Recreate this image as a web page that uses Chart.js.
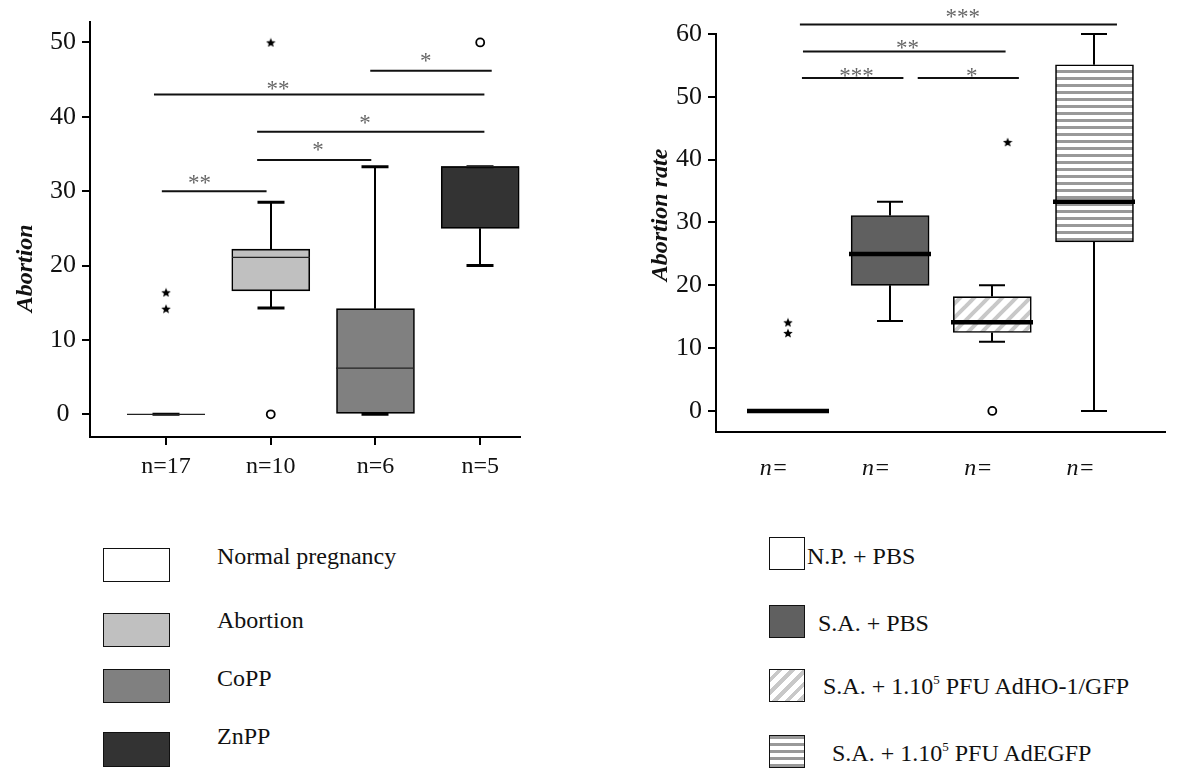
<!DOCTYPE html>
<html>
<head>
<meta charset="utf-8">
<script src="https://cdn.jsdelivr.net/npm/chart.js@4.4.0/dist/chart.umd.min.js"></script>
<style>
body { margin: 0; background: #fff; width: 1187px; height: 769px; position: relative; overflow: hidden; font-family: "Liberation Serif", serif; color: #111; }
#leftWrap { position: absolute; left: 0; top: 0; width: 560px; height: 500px; }
#rightWrap { position: absolute; left: 600px; top: 0; width: 587px; height: 500px; }
.sw { position: absolute; border: 1.5px solid #111; box-sizing: border-box; }
.lt { position: absolute; font-size: 24px; line-height: 24px; white-space: nowrap; }
.lt sup { font-size: 13px; vertical-align: 10px; line-height: 0; }
</style>
</head>
<body>
<div id="leftWrap"><canvas id="leftChart" width="560" height="500"></canvas></div>
<div id="rightWrap"><canvas id="rightChart" width="587" height="500"></canvas></div>

<!-- left legend -->
<div class="sw" style="left:103px;top:548px;width:67px;height:34px;background:#fff"></div>
<div class="lt" style="left:217px;top:544px">Normal pregnancy</div>
<div class="sw" style="left:103px;top:613px;width:67px;height:34px;background:#c0c0c0"></div>
<div class="lt" style="left:217px;top:608px">Abortion</div>
<div class="sw" style="left:103px;top:669px;width:67px;height:34px;background:#808080"></div>
<div class="lt" style="left:217px;top:666px">CoPP</div>
<div class="sw" style="left:103px;top:732px;width:67px;height:35px;background:#333"></div>
<div class="lt" style="left:217px;top:724px">ZnPP</div>

<!-- right legend -->
<div class="sw" style="left:769px;top:537px;width:36px;height:33px;background:#fff"></div>
<div class="lt" style="left:807px;top:544px">N.P. + PBS</div>
<div class="sw" style="left:769px;top:605px;width:36px;height:33px;background:#606060"></div>
<div class="lt" style="left:818px;top:611px">S.A. + PBS</div>
<div class="sw" style="left:769px;top:669px;width:36px;height:33px;background:repeating-linear-gradient(135deg,#fff 0 5px,#c8c8c8 5px 9px)"></div>
<div class="lt" style="left:823px;top:674px">S.A. + 1.10<sup>5</sup> PFU AdHO-1/GFP</div>
<div class="sw" style="left:769px;top:735px;width:36px;height:33px;background:repeating-linear-gradient(180deg,#999 0 3px,#fff 3px 7px)"></div>
<div class="lt" style="left:832px;top:741px">S.A. + 1.10<sup>5</sup> PFU AdEGFP</div>

<script>
// ---- left panel ----
const leftLabels = ['n=17', 'n=10', 'n=6', 'n=5'];
const leftYTicks = [0, 10, 20, 30, 40, 50];
const leftQ1 = [0, 16.6, 0, 25.0];
const leftQ3 = [0, 22.2, 14.2, 33.3];
const leftMedian = [0, 21.1, 6.2, 33.3];
const leftLow = [0, 14.3, 0, 20.0];
const leftHigh = [0, 28.5, 33.3, 33.3];
const leftStars = [{ x: 1, y: 16.4 }, { x: 1, y: 14.2 }, { x: 2, y: 50 }];
const leftCircles = [{ x: 2, y: 0 }, { x: 4, y: 50 }];
const leftSigFrom = [0.96, 1.87, 1.87, 0.885, 2.95];
const leftSigTo = [1.96, 2.96, 4.04, 4.04, 4.11];
const leftSigLevel = [30, 34.2, 38.0, 43.0, 46.2];
const leftSigText = ['**', '*', '*', '**', '*'];
const leftSigTextAt = [1.32, 2.45, 2.90, 2.07, 3.48];

// ---- right panel ----
const rightLabels = ['n=', 'n=', 'n=', 'n='];
const rightYTicks = [0, 10, 20, 30, 40, 50, 60];
const rightQ1 = [0, 20.0, 12.5, 26.9];
const rightQ3 = [0, 31.1, 18.2, 55.1];
const rightMedian = [0, 25.0, 14.1, 33.3];
const rightLow = [0, 14.3, 11.0, 0];
const rightHigh = [0, 33.3, 20.0, 60.0];
const rightStars = [{ x: 1, y: 14.1 }, { x: 1, y: 12.4 }, { x: 3.15, y: 42.8 }];
const rightCircles = [{ x: 3, y: 0 }];
const rightSigFrom = [1.117, 1.147, 1.137, 2.27];
const rightSigTo = [4.22, 3.13, 2.13, 3.26];
const rightSigLevel = [61.5, 57.2, 53.0, 53.0];
const rightSigText = ['***', '**', '***', '*'];
const rightSigTextAt = [2.71, 2.17, 1.67, 2.80];

const SERIF = '"Liberation Serif", "Times New Roman", serif';
Chart.defaults.font.family = SERIF;
Chart.defaults.color = '#111';

function starImage(size) {
    const c = document.createElement('canvas');
    c.width = c.height = size;
    const g = c.getContext('2d');
    g.fillStyle = '#000';
    g.beginPath();
    for (let k = 0; k < 10; k++) {
        const r = k % 2 ? size * 0.22 : size * 0.5;
        const a = -Math.PI / 2 + k * Math.PI / 5;
        g.lineTo(size / 2 + r * Math.cos(a), size / 2 + 0.5 + r * Math.sin(a));
    }
    g.closePath();
    g.fill();
    return c;
}

function makePattern(kind) {
    const c = document.createElement('canvas');
    const g = c.getContext('2d');
    if (kind === 'diag') {
        c.width = 14; c.height = 14;
        g.fillStyle = '#fff';
        g.fillRect(0, 0, 14, 14);
        g.strokeStyle = '#c8c8c8';
        g.lineWidth = 4;
        [[-7, 7, 7, -7], [0, 14, 14, 0], [7, 21, 21, 7]].forEach(s => {
            g.beginPath(); g.moveTo(s[0], s[1]); g.lineTo(s[2], s[3]); g.stroke();
        });
    } else {
        c.width = 4; c.height = 7;
        g.fillStyle = '#fff';
        g.fillRect(0, 0, 4, 7);
        g.fillStyle = '#999';
        g.fillRect(0, 0, 4, 3);
    }
    return document.createElement('canvas').getContext('2d').createPattern(c, 'repeat');
}

// whiskers, caps and medians for each box
function boxPlugin(p) {
    return {
        id: 'boxExtras',
        afterDatasetsDraw(chart) {
            const { ctx, scales: { x, y } } = chart;
            ctx.save();
            ctx.lineCap = 'butt';
            p.low.forEach((lo, i) => {
                const cx = Math.round(x.getPixelForValue(i + 1));
                const yLo = y.getPixelForValue(lo), yHi = y.getPixelForValue(p.high[i]);
                const yQ1 = y.getPixelForValue(p.q1[i]), yQ3 = y.getPixelForValue(p.q3[i]);
                ctx.strokeStyle = '#000';
                ctx.lineWidth = p.whiskerWidth;
                ctx.beginPath();
                ctx.moveTo(cx, yLo); ctx.lineTo(cx, yQ1);
                ctx.moveTo(cx, yQ3); ctx.lineTo(cx, yHi);
                ctx.stroke();
                ctx.lineWidth = p.capLine;
                ctx.beginPath();
                ctx.moveTo(cx - p.cap / 2, yLo); ctx.lineTo(cx + p.cap / 2, yLo);
                ctx.moveTo(cx - p.cap / 2, yHi); ctx.lineTo(cx + p.cap / 2, yHi);
                ctx.stroke();
                const ym = y.getPixelForValue(p.median[i]);
                ctx.strokeStyle = p.medianColor;
                ctx.lineWidth = p.medianWidth;
                ctx.beginPath();
                ctx.moveTo(cx - p.box / 2 - p.overhang, ym);
                ctx.lineTo(cx + p.box / 2 + p.overhang, ym);
                ctx.stroke();
            });
            ctx.restore();
        }
    };
}

// significance bars with asterisks
function sigPlugin(p) {
    return {
        id: 'sigBars',
        afterDraw(chart) {
            const { ctx, scales: { x, y } } = chart;
            ctx.save();
            p.from.forEach((f, i) => {
                const py = y.getPixelForValue(p.level[i]);
                ctx.strokeStyle = '#111';
                ctx.lineWidth = 2;
                ctx.beginPath();
                ctx.moveTo(x.getPixelForValue(f), py);
                ctx.lineTo(x.getPixelForValue(p.to[i]), py);
                ctx.stroke();
                ctx.fillStyle = '#666';
                ctx.font = '23px ' + SERIF;
                ctx.textAlign = 'center';
                ctx.textBaseline = 'alphabetic';
                ctx.fillText(p.text[i], x.getPixelForValue(p.textAt[i]), py + p.dy[i]);
            });
            ctx.restore();
        }
    };
}

function axisOpts(o) {
    return {
        x: {
            type: 'linear', min: o.xMin, max: o.xMax, offset: false,
            afterBuildTicks: s => { s.ticks = [1, 2, 3, 4].map(v => ({ value: v })); },
            afterFit: s => { s.height = o.xHeight; },
            ticks: {
                callback: (v, i) => o.labels[i], autoSkip: false, maxRotation: 0,
                padding: o.xPad, labelOffset: o.labelOffset,
                font: { family: SERIF, size: 24, style: o.xStyle }, color: '#111'
            },
            grid: { display: o.xTicks, offset: false, drawOnChartArea: false, drawTicks: o.xTicks, tickLength: 8, color: '#000', lineWidth: 2 },
            border: { display: true, color: '#000', width: 2 }
        },
        y: {
            min: o.yMin, max: o.yMax,
            afterBuildTicks: s => { s.ticks = o.yTicks.map(v => ({ value: v })); },
            afterFit: s => { s.width = o.yWidth; },
            ticks: {
                callback: o.yCallback, padding: o.yPad,
                font: { family: SERIF, size: 26 }, color: '#111'
            },
            grid: { drawOnChartArea: false, drawTicks: true, tickLength: 8, color: '#000', lineWidth: 2 },
            border: { display: true, color: '#000', width: 2 },
            title: {
                display: true, text: o.title, color: '#111',
                font: { family: SERIF, size: 24, weight: 'bold', style: 'italic' },
                padding: { top: o.titlePad, bottom: 0 }
            }
        }
    };
}

function boxDatasets(q1, q3, fills, stars, circles) {
    const star = starImage(10);
    return [
        {
            type: 'bar',
            data: q1.map((q, i) => ({ x: i + 1, y: [q, q3[i]] })),
            backgroundColor: fills,
            borderColor: '#000',
            borderWidth: 1.6,
            borderSkipped: false,
            barThickness: 78
        },
        {
            type: 'scatter', data: stars,
            pointStyle: star, pointRadius: 5
        },
        {
            type: 'scatter', data: circles,
            pointStyle: 'circle', pointRadius: 4,
            backgroundColor: '#fff', borderColor: '#000', borderWidth: 1.8
        }
    ];
}

new Chart(document.getElementById('leftChart'), {
    type: 'bar',
    data: {
        datasets: boxDatasets(leftQ1, leftQ3, ['#ffffff', '#c0c0c0', '#808080', '#333333'], leftStars, leftCircles)
    },
    options: {
        responsive: false,
        animation: false,
        layout: { padding: { left: 0, right: 40, top: 15, bottom: 0 } },
        plugins: { legend: { display: false }, tooltip: { enabled: false } },
        scales: axisOpts({
            xMin: 0.274, xMax: 4.38, xHeight: 63, labels: leftLabels, xPad: 7, labelOffset: 0,
            xStyle: 'normal', xTicks: true,
            yMin: -3.05, yMax: 52.8, yTicks: leftYTicks, yWidth: 90, yPad: 6,
            yCallback: v => (v === 0 ? '0 ' : v),
            title: 'Abortion             ', titlePad: 11
        })
    },
    plugins: [
        boxPlugin({ q1: leftQ1, q3: leftQ3, median: leftMedian, low: leftLow, high: leftHigh,
            box: 78, cap: 27, capLine: 3, whiskerWidth: 2, medianWidth: 1.2, medianColor: '#222', overhang: 0 }),
        sigPlugin({ from: leftSigFrom, to: leftSigTo, level: leftSigLevel, text: leftSigText,
            textAt: leftSigTextAt, dy: [-1.5, -2.5, -1.5, 1.5, -2.5] })
    ]
});

new Chart(document.getElementById('rightChart'), {
    type: 'bar',
    data: {
        datasets: boxDatasets(rightQ1, rightQ3, ['#ffffff', '#606060', makePattern('diag'), makePattern('horiz')], rightStars, rightCircles)
    },
    options: {
        responsive: false,
        animation: false,
        layout: { padding: { left: 0, right: 22, top: 34, bottom: 0 } },
        plugins: { legend: { display: false }, tooltip: { enabled: false } },
        scales: axisOpts({
            xMin: 0.296, xMax: 4.69, xHeight: 68, labels: rightLabels, xPad: 22, labelOffset: -14,
            xStyle: 'italic', xTicks: false,
            yMin: -3.35, yMax: 60, yTicks: rightYTicks, yWidth: 116, yPad: 6,
            yCallback: v => v,
            title: '      Abortion rate', titlePad: 46
        })
    },
    plugins: [
        boxPlugin({ q1: rightQ1, q3: rightQ3, median: rightMedian, low: rightLow, high: rightHigh,
            box: 78, cap: 26, capLine: 2, whiskerWidth: 2, medianWidth: 4.5, medianColor: '#000', overhang: 2 }),
        sigPlugin({ from: rightSigFrom, to: rightSigTo, level: rightSigLevel, text: rightSigText,
            textAt: rightSigTextAt, dy: [-1, 3, 5, 5] })
    ]
});
</script>
</body>
</html>
